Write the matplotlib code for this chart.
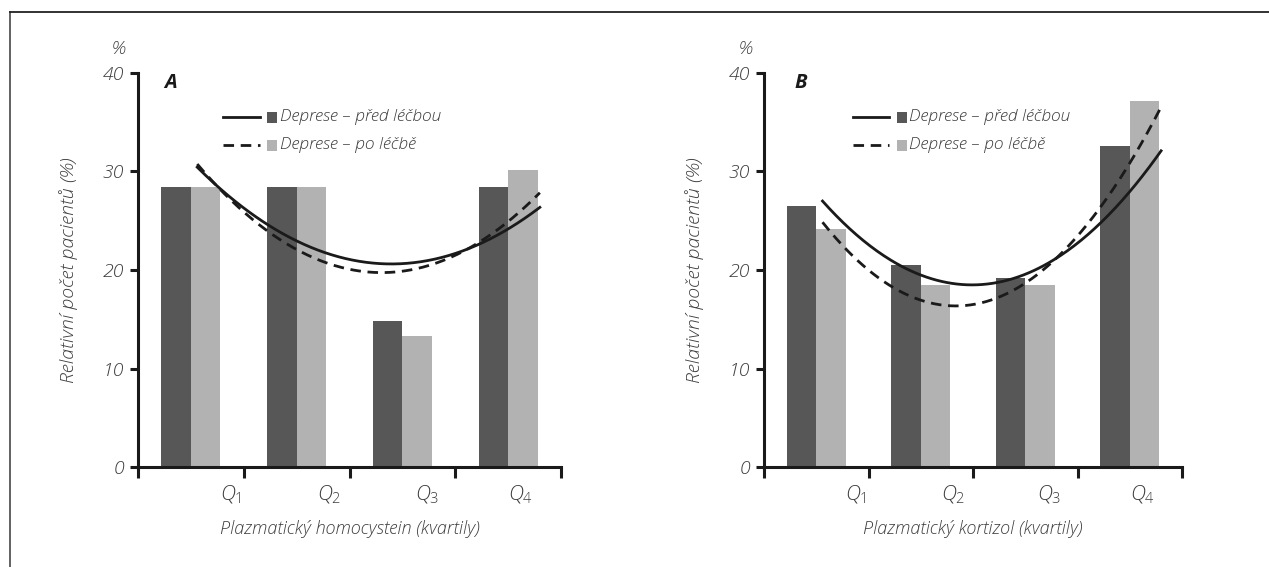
#!/usr/bin/env python3
import numpy as np
import matplotlib
matplotlib.use("Agg")
import matplotlib.pyplot as plt
from matplotlib.lines import Line2D
from matplotlib.patches import Rectangle

plt.rcParams["font.family"] = ["Open Sans", "DejaVu Sans"]
plt.rcParams["mathtext.fontset"] = "custom"
plt.rcParams["mathtext.it"] = "Open Sans:italic:light"
plt.rcParams["mathtext.rm"] = "Open Sans:light"

QUARTILES = [r"$\mathit{Q_1}$", r"$\mathit{Q_2}$", r"$\mathit{Q_3}$", r"$\mathit{Q_4}$"]
SERIES_NAMES = ["Deprese – před léčbou", "Deprese – po léčbě"]
Y_TICKS = [0, 10, 20, 30, 40]

# panel A: homocystein
homo_before = [28.4, 28.4, 14.8, 28.4]
homo_after = [28.4, 28.4, 13.3, 30.2]
# panel B: kortizol
kort_before = [26.5, 20.5, 19.2, 32.6]
kort_after = [24.2, 18.5, 18.5, 37.2]

DARK = "#575757"
LIGHT = "#b2b2b2"
LINE = "#1a1a1a"
TEXT = "#3c3c3c"


def draw_panel(ax, before, after, letter, xlabel, legend_x, letter_x):
    n = len(before)
    centers = np.arange(n) + 0.5
    w = 0.28
    ax.bar(centers - w / 2, before, width=w, color=DARK, zorder=2)
    ax.bar(centers + w / 2, after, width=w, color=LIGHT, zorder=2)

    # quadratic trend lines (as in the original Excel chart)
    idx = np.arange(n)
    s = np.linspace(0, n - 1, 200)
    xs = 0.56 + s * (3.8 - 0.56) / (n - 1)
    for vals, ls in [(before, "-"), (after, (0, (3.8, 2.4)))]:
        coef = np.polyfit(idx, vals, 2)
        ax.plot(xs, np.polyval(coef, s), color=LINE, lw=2.0, ls=ls, zorder=3)

    ax.set_xlim(0, 4)
    ax.set_ylim(0, 40)
    for side in ["top", "right"]:
        ax.spines[side].set_visible(False)
    for side in ["left", "bottom"]:
        ax.spines[side].set_linewidth(2.2)
        ax.spines[side].set_color("#1a1a1a")
    ax.spines["left"].set_bounds(0, 40)

    ax.set_yticks(Y_TICKS)
    ax.set_yticklabels([str(v) for v in Y_TICKS], fontsize=14, style="italic",
                       fontweight="light", color=TEXT)
    ax.tick_params(axis="y", direction="out", length=6, width=2.2, pad=4, colors="#1a1a1a",
                   labelcolor=TEXT)
    ax.set_xticks([0, 1, 2, 3, 4])
    ax.set_xticklabels([])
    ax.tick_params(axis="x", direction="out", length=8, width=2.2, colors="#1a1a1a")

    label_pos = [0.88, 1.81, 2.73, 3.62]
    for xp, q in zip(label_pos, QUARTILES):
        ax.text(xp, -1.6, q, ha="center", va="top", fontsize=15, color=TEXT)

    ax.text(0.5, -0.135, xlabel, transform=ax.transAxes, ha="center", va="top",
            fontsize=13, style="italic", fontweight="light", color=TEXT)
    ax.text(-0.165, 0.5, "Relativní počet pacientů (%)", transform=ax.transAxes,
            ha="center", va="center", rotation=90, fontsize=14, style="italic",
            fontweight="light", color=TEXT)
    ax.text(-0.045, 1.06, "%", transform=ax.transAxes, ha="center", va="center",
            fontsize=13, style="italic", fontweight="light", color=TEXT)
    ax.text(letter_x, 0.975, letter, transform=ax.transAxes, ha="center", va="center",
            fontsize=14.5, style="italic", fontweight="bold", color="#1a1a1a")

    # legend drawn by hand: line + square + text
    rows = [(0.888, "-", DARK), (0.817, (0, (3.8, 2.4)), LIGHT)]
    for (yy, ls, col), name in zip(rows, SERIES_NAMES):
        ax.add_line(Line2D([legend_x, legend_x + 0.087], [yy, yy], transform=ax.transAxes,
                           color=LINE, lw=2.0, ls=ls))
        ax.add_patch(Rectangle((legend_x + 0.104, yy - 0.014), 0.024, 0.028,
                               transform=ax.transAxes, color=col, lw=0))
        ax.text(legend_x + 0.135, yy, name, transform=ax.transAxes, ha="left",
                va="center", fontsize=12.5, style="italic", fontweight="light", color=TEXT)


fig = plt.figure(figsize=(12.69, 5.67), dpi=100)
ax_a = fig.add_axes([138 / 1269, 1 - 467 / 567, 423 / 1269, 394 / 567])
ax_b = fig.add_axes([764 / 1269, 1 - 467 / 567, 418 / 1269, 394 / 567])

draw_panel(ax_a, homo_before, homo_after, "A", "Plazmatický homocystein (kvartily)", 0.201, 0.078)
draw_panel(ax_b, kort_before, kort_after, "B", "Plazmatický kortizol (kvartily)", 0.213, 0.088)

# frame lines (left and top) around the figure
fig.add_artist(Line2D([9.5 / 1269, 9.5 / 1269], [0, 1 - 12 / 567], color="#555555", lw=1.3))
fig.add_artist(Line2D([9.5 / 1269, 1], [1 - 12 / 567, 1 - 12 / 567], color="#222222", lw=1.3))

fig.savefig("out.png", dpi=100)
